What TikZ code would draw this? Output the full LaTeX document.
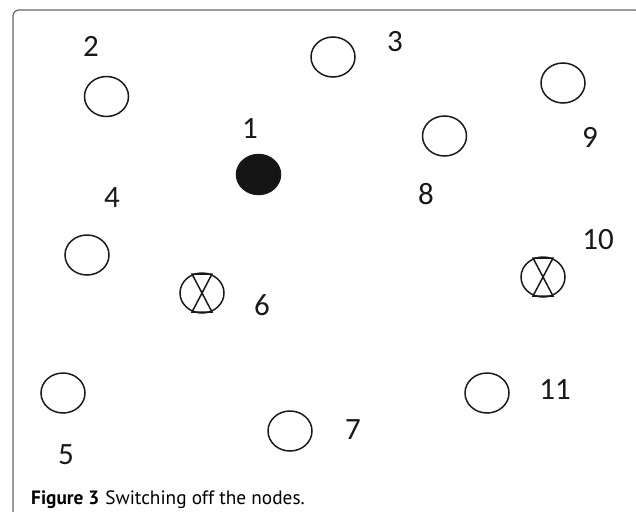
\documentclass[tikz,border=0pt]{standalone}
\usepackage{fontspec}
\setmainfont{Carlito}
\newfontfamily\capfont{PT Sans}
\usetikzlibrary{shapes.geometric}
\begin{document}
\begin{tikzpicture}[x=1pt,y=-1pt,
  nd/.style={ellipse,draw=black!90,line width=1.5pt,minimum width=44pt,minimum height=40pt,inner sep=0pt},
  fullnd/.style={nd,fill=black!92},
  lbl/.style={inner sep=0pt,font=\fontsize{31}{31}\selectfont,text=black!90},
  xline/.style={line width=1.5pt,draw=black!90}]
\useasboundingbox (0,0) rectangle (636,511);
% frame
\draw[line width=1.2pt,draw=black!60,rounded corners=6pt] (13,512) -- (13,10) -- (641,10) -- (641,20);
% nodes
\node[nd] (c2) at (106.5,96.5) {};
\node[nd] (c3) at (333,57) {};
\node[nd] (c9) at (563,83) {};
\node[nd] (c8) at (444.5,136) {};
\node[fullnd] (c1) at (258.5,174.5) {};
\node[nd] (c4) at (87,255) {};
\node[nd] (c6) at (202,293) {};
\node[nd] (c10) at (543,277) {};
\node[nd] (c5) at (63,393) {};
\node[nd] (c11) at (487,393) {};
\node[nd] (c7) at (290,431) {};
% switched-off symbols
\foreach \n in {c6,c10}{
  \draw[xline] ([shift={(-10,-19)}]\n.center) -- ([shift={(10,-19)}]\n.center) -- ([shift={(-10,19)}]\n.center) -- ([shift={(10,19)}]\n.center) -- cycle;
}
% labels
\node[lbl] (l2) at (91,46) {2};
\node[lbl] (l3) at (395,42) {3};
\node[lbl] (l1) at (250,129) {1};
\node[lbl] (l9) at (590,137) {9};
\node[lbl] (l8) at (426,194) {8};
\node[lbl] (l4) at (112,198) {4};
\node[lbl] (l10) at (598,240) {10};
\node[lbl] (l6) at (262,305) {6};
\node[lbl] (l11) at (555,390) {11};
\node[lbl] (l7) at (353,430) {7};
\node[lbl] (l5) at (66,455) {5};
% caption
\node[anchor=base west,inner sep=0pt,font=\capfont\fontsize{19.3}{19.3}\selectfont] (cap) at (31,504) {\textbf{Figure 3}\hspace{6pt}Switching off the nodes.};
\end{tikzpicture}
\end{document}
